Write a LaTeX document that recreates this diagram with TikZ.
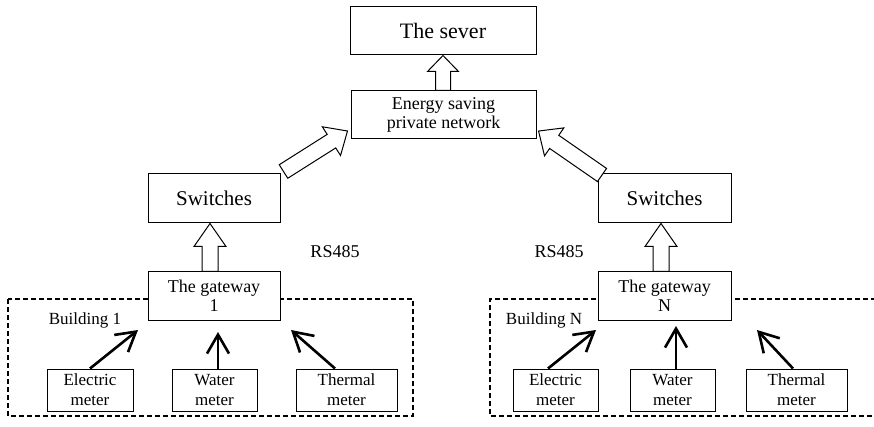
\documentclass[tikz,border=0pt]{standalone}
\usepackage{fontspec}
\setmainfont{Liberation Serif}
\usetikzlibrary{arrows.meta,calc}
\tikzset{
  box/.style={draw, line width=1pt, fill=white, inner sep=0pt, align=center},
  bigbox/.style={box, font=\fontsize{21}{24}\selectfont},
  midbox/.style={box, font=\fontsize{18}{19.5}\selectfont},
  meterbox/.style={box, minimum height=42pt, font=\fontsize{17}{20}\selectfont},
  metarr/.style={line width=2.6pt, -{Straight Barb[length=19pt,width=22pt]}},
  hollowarr/.style={draw, line width=1pt, fill=white, line join=miter},
  dashbox/.style={draw, line width=1.1pt, dash pattern=on 5pt off 3pt},
  lbl/.style={inner sep=0pt, font=\fontsize{17}{20}\selectfont},
}
\newcommand{\hollowarrow}[5]{%
  \draw[hollowarr] let \p1=(#1), \p2=(#2),
    \n1={atan2(\y2-\y1,\x2-\x1)}, \n2={veclen(\x2-\x1,\y2-\y1)} in
    [shift={(\p1)}, rotate=\n1]
    (0,-#3) -- (\n2-#5,-#3) -- (\n2-#5,-#4) -- (\n2,0) -- (\n2-#5,#4)
    -- (\n2-#5,#3) -- (0,#3) -- cycle;}
\begin{document}
\begin{tikzpicture}[x=1pt,y=-1pt]
\useasboundingbox (0,0) rectangle (874,427);
% dashed building frames
\draw[dashbox] (8,299) rectangle (413,416);
\draw[dashbox] (876,299) -- (490,299) -- (490,416) -- (876,416);
% main boxes
\node[bigbox, minimum width=186pt, minimum height=48pt, font=\fontsize{22}{24}\selectfont] (sever) at (443,31) {The sever};
\node[midbox, minimum width=185pt, minimum height=48pt] (energy) at (443.5,115) {Energy saving\\private network};
\node[bigbox, minimum width=132pt, minimum height=49pt] (swL) at (214,198.5) {Switches};
\node[bigbox, minimum width=133pt, minimum height=49pt] (swR) at (664.5,198.5) {Switches};
\node[midbox, minimum width=132pt, minimum height=48pt] (gwL) at (214,296) {The gateway\\1};
\node[midbox, minimum width=133pt, minimum height=48pt] (gwR) at (664.5,296) {The gateway\\N};
% meters
\node[meterbox, minimum width=86pt] (elL) at (90,390) {Electric\\meter};
\node[meterbox, minimum width=85pt] (waL) at (214.5,390) {Water\\meter};
\node[meterbox, minimum width=101pt] (thL) at (346.5,390) {Thermal\\meter};
\node[meterbox, minimum width=85pt] (elR) at (555.5,390) {Electric\\meter};
\node[meterbox, minimum width=85pt] (waR) at (672.5,390) {Water\\meter};
\node[meterbox, minimum width=101pt] (thR) at (796.5,390) {Thermal\\meter};
% labels
\node[lbl, font=\fontsize{18}{20}\selectfont] (rsL) at (335,252) {RS485};
\node[lbl, font=\fontsize{18}{20}\selectfont] (rsR) at (559,252) {RS485};
\node[lbl] (bL) at (85,320) {Building 1};
\node[lbl] (bR) at (544,320) {Building N};
% hollow arrows
\hollowarrow{energy.north -| sever.south}{sever.south}{7.5}{15.5}{16}
\hollowarrow{$(gwL.north)+(-4,0)$}{$(swL.south)+(-4,0)$}{8}{16}{23}
\hollowarrow{$(gwR.north)+(-3.5,0)$}{$(swR.south)+(-3.5,0)$}{8}{16}{23}
\coordinate (dlT) at ($(swL.north east)+(3,-2)$);
\coordinate (dlH) at ($(energy.west)+(-3,16)$);
\coordinate (drT) at ($(swR.north west)+(4.5,1.5)$);
\coordinate (drH) at ($(energy.east)+(2,16)$);
\hollowarrow{dlT}{dlH}{8}{17}{19}
\hollowarrow{drT}{drH}{8}{17}{19}
% meter arrows
\coordinate (eLt) at (138,330);
\coordinate (wLt) at (218,332);
\coordinate (tLt) at (291,330);
\coordinate (eRt) at (596,330);
\coordinate (wRt) at (676,326);
\coordinate (tRt) at (757,330);
\draw[metarr] (elL.north) -- (eLt);
\draw[metarr] ($(waL.north)+(3.5,0)$) -- (wLt);
\draw[metarr] ($(thL.north)+(-11.5,0)$) -- (tLt);
\draw[metarr] ($(elR.north)+(-7.5,0)$) -- (eRt);
\draw[metarr] ($(waR.north)+(3.5,0)$) -- (wRt);
\draw[metarr] ($(thR.north)+(-3.5,0)$) -- (tRt);
\end{tikzpicture}
\end{document}
